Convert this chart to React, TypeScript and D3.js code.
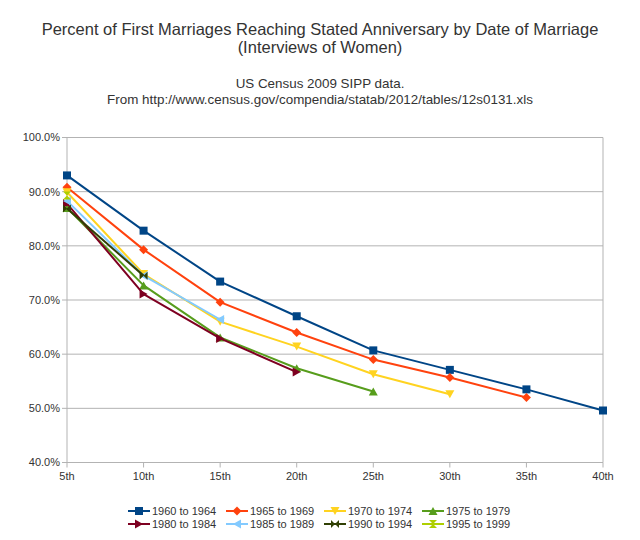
import React from 'react';
import * as d3 from 'd3';

// anniversary categories on the x axis
const anniversaries = ['5th', '10th', '15th', '20th', '25th', '30th', '35th', '40th'];

const seriesNames = [
  '1960 to 1964', '1965 to 1969', '1970 to 1974', '1975 to 1979',
  '1980 to 1984', '1985 to 1989', '1990 to 1994', '1995 to 1999',
];

// percent reaching each anniversary
const s1960 = [93.0, 82.8, 73.4, 67.0, 60.7, 57.1, 53.5, 49.6];
const s1965 = [90.8, 79.3, 69.6, 64.0, 59.0, 55.7, 52.0];
const s1970 = [89.9, 74.8, 66.0, 61.4, 56.3, 52.6];
const s1975 = [87.0, 72.7, 63.1, 57.4, 53.1];
const s1980 = [87.8, 71.1, 62.9, 56.7];
const s1985 = [88.3, 74.5, 66.4];
const s1990 = [86.9, 74.5];
const s1995 = [89.3];

const seriesValues = [s1960, s1965, s1970, s1975, s1980, s1985, s1990, s1995];
const colors = ['#004586', '#ff420e', '#ffd320', '#579d1c', '#7e0021', '#83caff', '#314004', '#aecf00'];
const yTicks = [40, 50, 60, 70, 80, 90, 100];

// LibreOffice-style marker shapes
const markerPaths = [
  'M-4,-4H4V4H-4Z',
  'M0,-4.5L4.5,0L0,4.5L-4.5,0Z',
  'M-4.5,-4L4.5,-4L0,4Z',
  'M0,-4L4.5,4L-4.5,4Z',
  'M-4,-4.5L4,0L-4,4.5Z',
  'M4,-4.5L-4,0L4,4.5Z',
  'M-4,-4L4,4L4,-4L-4,4Z',
  'M-4,-4L4,-4L-4,4L4,4Z',
];

const W = 640;
const H = 540;
const left = 67;
const right = 603;
const top = 137.5;
const bottom = 462.5;

export default function App() {
  const x = d3.scalePoint<string>().domain(anniversaries).range([left, right]);
  const y = d3.scaleLinear().domain([40, 100]).range([bottom, top]);
  const line = d3.line<number>()
    .x((_, i) => x(anniversaries[i]) as number)
    .y(d => y(d));

  const grid = '#b3b3b3';
  const textColor = '#333';
  const font = '"Liberation Sans", Arial, sans-serif';

  return (
    <svg width={W} height={H} style={{ position: 'absolute', left: 0, top: 0, background: '#fff' }} fontFamily={font}>
      <rect width={W} height={H} fill="#fff" />
      <text x={320} y={35} textAnchor="middle" fontSize={16.5} fill={textColor}>
        Percent of First Marriages Reaching Stated Anniversary by Date of Marriage
      </text>
      <text x={320} y={53} textAnchor="middle" fontSize={16.5} fill={textColor}>
        (Interviews of Women)
      </text>
      <text x={320} y={88} textAnchor="middle" fontSize={13.4} fill={textColor}>
        US Census 2009 SIPP data.
      </text>
      <text x={320} y={104} textAnchor="middle" fontSize={13.4} fill={textColor}>
        From http://www.census.gov/compendia/statab/2012/tables/12s0131.xls
      </text>

      {/* grid + y axis */}
      {yTicks.map(t => (
        <g key={t}>
          <line x1={left - 5} x2={right} y1={y(t)} y2={y(t)} stroke={grid} strokeWidth={1} />
          <text x={left - 7} y={y(t)} dy="0.35em" textAnchor="end" fontSize={11} fill={textColor}>
            {t.toFixed(1)}%
          </text>
        </g>
      ))}
      <line x1={left} x2={left} y1={top} y2={bottom} stroke={grid} />
      <line x1={right} x2={right} y1={top} y2={bottom} stroke={grid} />

      {/* x axis ticks */}
      {anniversaries.map(a => (
        <g key={a}>
          <line x1={x(a)} x2={x(a)} y1={bottom} y2={bottom + 5} stroke={grid} />
          <text x={x(a)} y={bottom + 17} textAnchor="middle" fontSize={11} fill={textColor}>{a}</text>
        </g>
      ))}

      {/* series */}
      {seriesValues.map((vals, si) => (
        <g key={seriesNames[si]}>
          <path d={line(vals) || ''} fill="none" stroke={colors[si]} strokeWidth={2} strokeLinejoin="round" />
          {vals.map((v, i) => (
            <path key={i} d={markerPaths[si]} fill={colors[si]}
              transform={`translate(${x(anniversaries[i])},${y(v)})`} />
          ))}
        </g>
      ))}

      {/* legend */}
      {seriesNames.map((name, si) => {
        const lx = 128 + (si % 4) * 98;
        const ly = si < 4 ? 511 : 524;
        return (
          <g key={name}>
            <line x1={lx} x2={lx + 22} y1={ly} y2={ly} stroke={colors[si]} strokeWidth={2} />
            <path d={markerPaths[si]} fill={colors[si]} transform={`translate(${lx + 11},${ly})`} />
            <text x={lx + 24} y={ly} dy="0.35em" fontSize={11} fill={textColor}>{name}</text>
          </g>
        );
      })}
    </svg>
  );
}
